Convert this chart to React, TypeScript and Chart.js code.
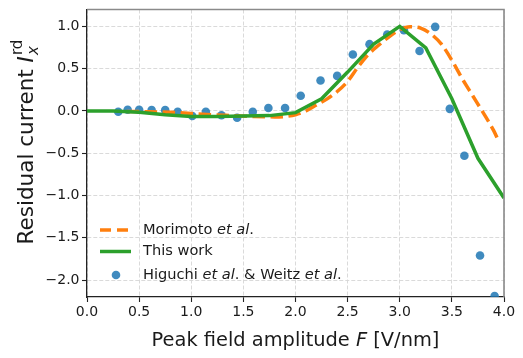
import React, { useEffect, useRef } from 'react';
import { Chart, registerables } from 'chart.js';

Chart.register(...registerables);

const FONT = '"DejaVu Sans", "Liberation Sans", sans-serif';
const TEXT = '#1a1a1a';

// Higuchi et al. & Weitz et al. (experiment)
const expX = [0.30, 0.39, 0.50, 0.62, 0.75, 0.87, 1.01, 1.14, 1.29, 1.44, 1.59, 1.74, 1.90, 2.05, 2.24, 2.40, 2.55, 2.71, 2.88, 3.04, 3.19, 3.34, 3.48, 3.62, 3.77, 3.91];
const expY = [-0.01, 0.015, 0.015, 0.01, 0.01, -0.01, -0.06, -0.01, -0.05, -0.08, -0.01, 0.035, 0.035, 0.18, 0.36, 0.415, 0.667, 0.79, 0.905, 0.956, 0.71, 0.995, 0.025, -0.53, -1.71, -2.19];

// This work
const workX = [0, 0.25, 0.5, 0.75, 1.0, 1.25, 1.5, 1.75, 2.0, 2.25, 2.5, 2.75, 3.0, 3.25, 3.5, 3.75, 4.0];
const workY = [0, 0, -0.015, -0.045, -0.065, -0.065, -0.06, -0.055, -0.02, 0.145, 0.46, 0.79, 1.0, 0.745, 0.145, -0.56, -1.03];

// Morimoto et al.
const moriX = [0.38, 0.6, 0.8, 1.0, 1.2, 1.4, 1.6, 1.8, 1.9, 2.0, 2.1, 2.2, 2.3, 2.4, 2.5, 2.6, 2.7, 2.8, 2.9, 3.0, 3.1, 3.2, 3.3, 3.4, 3.5, 3.6, 3.7, 3.8, 3.9, 3.95];
const moriY = [-0.005, -0.01, -0.015, -0.03, -0.045, -0.055, -0.065, -0.07, -0.065, -0.045, 0.0, 0.07, 0.14, 0.23, 0.35, 0.52, 0.67, 0.78, 0.88, 0.96, 0.995, 0.98, 0.91, 0.79, 0.6, 0.38, 0.18, -0.02, -0.23, -0.36];

const xTicks = [0, 0.5, 1.0, 1.5, 2.0, 2.5, 3.0, 3.5, 4.0];
const yTicks = [-2.0, -1.5, -1.0, -0.5, 0.0, 0.5, 1.0];

const legendMori = [{ t: 'Morimoto ', i: false }, { t: 'et al', i: true }, { t: '.', i: false }];
const legendWork = [{ t: 'This work', i: false }];
const legendExp = [
  { t: 'Higuchi ', i: false }, { t: 'et al', i: true }, { t: '. & Weitz ', i: false }, { t: 'et al', i: true }, { t: '.', i: false },
];
const xTitle = [{ t: 'Peak field amplitude ', i: false }, { t: 'F', i: true }, { t: ' [V/nm]', i: false }];

const ORANGE = '#ff7f0e';
const GREEN = '#2ca02c';
const BLUE = 'rgba(31,119,180,0.85)';

const fmt = (v: number) => (v < 0 ? '\u2212' : '') + Math.abs(v).toFixed(1);

function drawParts(ctx: CanvasRenderingContext2D, parts: { t: string; i: boolean }[], x: number, y: number, size: number) {
  let cx = x;
  for (const p of parts) {
    ctx.font = `${p.i ? 'italic ' : ''}${size}px ${FONT}`;
    ctx.fillText(p.t, cx, y);
    cx += ctx.measureText(p.t).width;
  }
  return cx;
}
function measureParts(ctx: CanvasRenderingContext2D, parts: { t: string; i: boolean }[], size: number) {
  let w = 0;
  for (const p of parts) {
    ctx.font = `${p.i ? 'italic ' : ''}${size}px ${FONT}`;
    w += ctx.measureText(p.t).width;
  }
  return w;
}

const decor = {
  id: 'decor',
  afterDraw(chart: any) {
    const { ctx, chartArea } = chart;
    const { left, right, top, bottom } = chartArea;
    ctx.save();
    // top & right spines
    ctx.strokeStyle = '#8a8a8a';
    ctx.lineWidth = 1.6;
    ctx.beginPath();
    ctx.moveTo(left, top);
    ctx.lineTo(right, top);
    ctx.lineTo(right, bottom);
    ctx.stroke();

    // legend
    ctx.fillStyle = TEXT;
    ctx.textBaseline = 'middle';
    const lx0 = 100, lx1 = 131, tx = 143;
    const rows = [230, 251.5, 275];
    ctx.lineWidth = 3.5;
    ctx.strokeStyle = ORANGE;
    ctx.setLineDash([11, 6]);
    ctx.beginPath();
    ctx.moveTo(lx0, rows[0]);
    ctx.lineTo(lx1, rows[0]);
    ctx.stroke();
    ctx.setLineDash([]);
    ctx.strokeStyle = GREEN;
    ctx.beginPath();
    ctx.moveTo(lx0, rows[1]);
    ctx.lineTo(lx1, rows[1]);
    ctx.stroke();
    ctx.fillStyle = BLUE;
    ctx.beginPath();
    ctx.arc(116, rows[2], 4.3, 0, Math.PI * 2);
    ctx.fill();
    ctx.fillStyle = TEXT;
    const ls = 14.6;
    drawParts(ctx, legendMori, tx, rows[0], ls);
    drawParts(ctx, legendWork, tx, rows[1], ls);
    drawParts(ctx, legendExp, tx, rows[2], ls);

    // x title
    const ts = 19.4;
    ctx.textBaseline = 'alphabetic';
    const wx = measureParts(ctx, xTitle, ts);
    drawParts(ctx, xTitle, (left + right) / 2 - wx / 2, 346, ts);

    // y title (rotated)
    const ys = 21.5;
    const cy = 142;
    ctx.translate(33, cy);
    ctx.rotate(-Math.PI / 2);
    ctx.font = `${ys}px ${FONT}`;
    const main = 'Residual current ';
    const w1 = ctx.measureText(main).width;
    ctx.font = `italic ${ys}px ${FONT}`;
    const wI = ctx.measureText('I').width;
    const ss = ys * 0.7;
    ctx.font = `${ss}px ${FONT}`;
    const wsup = ctx.measureText('rd').width;
    ctx.font = `italic ${ss}px ${FONT}`;
    const wsub = ctx.measureText('x').width;
    const total = w1 + wI + 1 + Math.max(wsup, wsub);
    let x = -total / 2;
    ctx.font = `${ys}px ${FONT}`;
    ctx.fillText(main, x, 0);
    x += w1;
    ctx.font = `italic ${ys}px ${FONT}`;
    ctx.fillText('I', x, 0);
    x += wI + 1;
    ctx.font = `${ss}px ${FONT}`;
    ctx.fillText('rd', x, -ys * 0.52);
    ctx.font = `italic ${ss}px ${FONT}`;
    ctx.fillText('x', x, ys * 0.22);
    ctx.restore();
  },
};

export default function App() {
  const ref = useRef<HTMLCanvasElement>(null);
  useEffect(() => {
    const canvas = ref.current!;
    const axisCommon = (ticks: number[], fit: (s: any) => void, pad: number) => ({
      type: 'linear' as const,
      afterBuildTicks: (s: any) => {
        s.ticks = ticks.map((v) => ({ value: v }));
      },
      afterFit: fit,
      ticks: {
        font: { family: FONT, size: 14, lineHeight: 1 },
        color: TEXT,
        padding: pad,
        callback: (v: any) => fmt(Number(v)),
      },
      grid: {
        color: '#d6d6d6',
        lineWidth: 0.9,
        tickColor: '#222',
        tickLength: 5,
        tickWidth: 1.1,
        tickBorderDash: [],
      },
      border: { color: '#222', width: 1.3, dash: [4, 2] },
    });
    const chart = new Chart(canvas, {
      type: 'scatter',
      data: {
        datasets: [
          {
            label: 'This work',
            data: workX.map((x, i) => ({ x, y: workY[i] })),
            showLine: true,
            borderColor: GREEN,
            borderWidth: 3.5,
            pointRadius: 0,
            tension: 0,
            order: 0,
          },
          {
            label: 'Morimoto et al.',
            data: moriX.map((x, i) => ({ x, y: moriY[i] })),
            showLine: true,
            borderColor: ORANGE,
            borderWidth: 3.5,
            borderDash: [12.5, 5.5],
            pointRadius: 0,
            cubicInterpolationMode: 'monotone',
            order: 1,
          },
          {
            label: 'Higuchi et al. & Weitz et al.',
            data: expX.map((x, i) => ({ x, y: expY[i] })),
            backgroundColor: BLUE,
            borderWidth: 0,
            pointRadius: 4.3,
            order: 2,
          },
        ],
      } as any,
      options: {
        animation: false,
        responsive: false,
        devicePixelRatio: 1,
        layout: { padding: { top: 7, right: 19, left: 0, bottom: 0 } },
        plugins: { legend: { display: false }, tooltip: { enabled: false } },
        scales: {
          x: { ...axisCommon(xTicks, (s: any) => { s.height = 61; }, 3), min: 0, max: 4 },
          y: { ...axisCommon(yTicks, (s: any) => { s.width = 87; }, 2.5), min: -2.2, max: 1.2 },
        },
      } as any,
      plugins: [decor],
    });
    return () => chart.destroy();
  }, []);
  return (
    <div style={{ position: 'fixed', left: 0, top: 0, width: 523, height: 358, background: '#fff' }}>
      <canvas ref={ref} width={523} height={358} style={{ display: 'block', width: 523, height: 358 }} />
    </div>
  );
}
